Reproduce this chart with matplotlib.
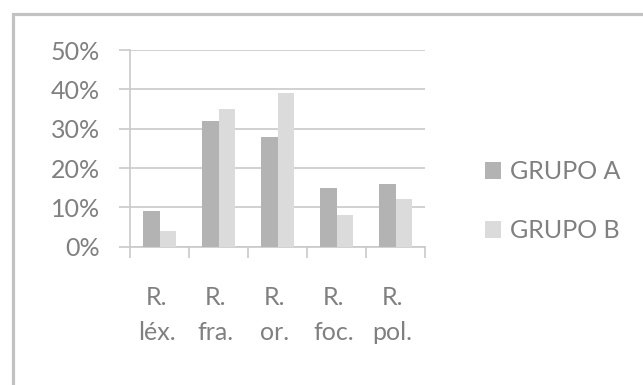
import matplotlib
matplotlib.use("Agg")
import matplotlib.pyplot as plt
from matplotlib.patches import Rectangle
from matplotlib.transforms import blended_transform_factory, ScaledTranslation
import numpy as np

categories = ["R.\nléx.", "R.\nfra.", "R.\nor.", "R.\nfoc.", "R.\npol."]
grupo_a = [9, 32, 28, 15, 16]
grupo_b = [4, 35, 39, 8, 12]
series_names = ["GRUPO A", "GRUPO B"]
y_ticks = [0, 10, 20, 30, 40, 50]
y_tick_labels = ["0%", "10%", "20%", "30%", "40%", "50%"]

W, H = 643, 385
DPI = 100
TEXT = "#808080"
GRID = "#c9c9c9"
COL_A = "#b3b3b3"
COL_B = "#dbdbdb"
FONT = ["Lato", "DejaVu Sans"]
FS = 18

plt.rcParams["font.family"] = FONT

fig = plt.figure(figsize=(W / DPI, H / DPI), dpi=DPI)
fig.patch.set_facecolor("white")

# chart-area border (runs off the right and bottom edges)
fig.add_artist(Rectangle((12.5 / W, -0.2), 1.2, (H - 14.5) / H + 0.2,
                         transform=fig.transFigure, fill=False,
                         edgecolor="#c2c2c2", linewidth=2.3))

left, right = 130, 425
top, bottom = 50, 246.7
ax = fig.add_axes([left / W, (H - bottom) / H, (right - left) / W, (bottom - top) / H])

x = np.arange(len(categories))
bw = 0.28
ax.bar(x - bw / 2, grupo_a, width=bw, color=COL_A, label=series_names[0], zorder=3)
ax.bar(x + bw / 2, grupo_b, width=bw, color=COL_B, label=series_names[1], zorder=3)

ax.set_xlim(-0.5, len(categories) - 0.5)
ax.set_ylim(0, 50)

ax.set_yticks(y_ticks)
ax.set_yticklabels(y_tick_labels)
ax.yaxis.grid(True, color=GRID, linewidth=1.2, zorder=0)
ax.tick_params(axis="y", length=8, width=1.2, color=GRID, pad=13.5,
               labelsize=FS, labelcolor=TEXT)

# category ticks sit on the boundaries; names are written under each group
ax.set_xticks(np.arange(len(categories) + 1) - 0.5)
ax.set_xticklabels([])
ax.tick_params(axis="x", which="major", length=8, width=1.2, color=GRID)

label_tr = blended_transform_factory(ax.transData, fig.transFigure) + \
    ScaledTranslation(-3 / DPI, 0, fig.dpi_scale_trans)
for xi, name in zip(x, categories):
    first, second = name.split("\n")
    ax.text(xi, (H - 305) / H, first, transform=label_tr, ha="center",
            va="baseline", fontsize=FS, color=TEXT)
    ax.text(xi, (H - 340) / H, second, transform=label_tr, ha="center",
            va="baseline", fontsize=FS, color=TEXT)

for s in ["top", "right"]:
    ax.spines[s].set_visible(False)
ax.spines["left"].set_color(GRID)
ax.spines["bottom"].set_color(GRID)
ax.spines["left"].set_linewidth(1.2)
ax.spines["bottom"].set_linewidth(1.2)

fig.legend(loc="center left", bbox_to_anchor=(472 / W, (H - 201) / H),
           frameon=False, fontsize=FS, labelcolor=TEXT,
           handlelength=0.66, handleheight=0.66, handletextpad=0.36,
           labelspacing=1.45, borderpad=0)

fig.savefig("out.png", dpi=DPI, facecolor="white")
